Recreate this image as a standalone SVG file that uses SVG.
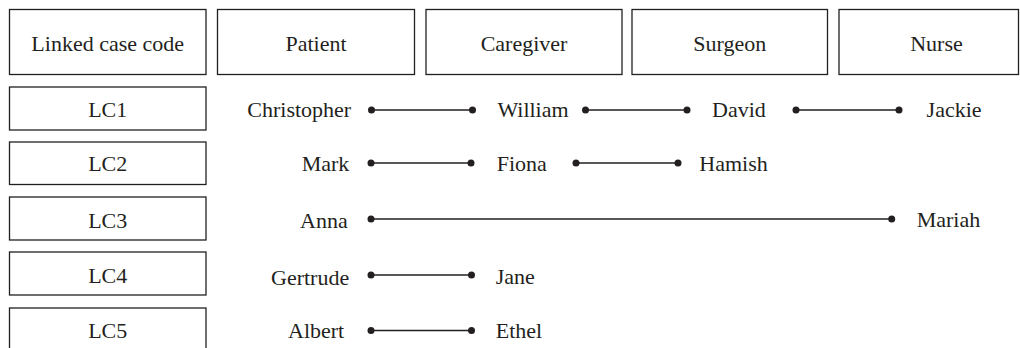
<svg xmlns="http://www.w3.org/2000/svg" width="1020" height="348" viewBox="0 0 1020 348">
<rect width="1020" height="348" fill="#fff"/>
<g id="nodes" font-family="Liberation Serif, serif" font-size="22" fill="#231f20">
<g id="boxes" fill="#fff" stroke="#231f20" stroke-width="1.3">
<rect id="box-linked" x="9.5" y="9.5" width="196.5" height="65"/>
<rect id="box-patient" x="217.5" y="9.5" width="197" height="65"/>
<rect id="box-caregiver" x="426" y="9.5" width="196" height="65"/>
<rect id="box-surgeon" x="632" y="9.5" width="195.5" height="65"/>
<rect id="box-nurse" x="839" y="9.5" width="179.5" height="65"/>
<rect id="box-lc1" x="9.5" y="87" width="196.5" height="43"/>
<rect id="box-lc2" x="9.5" y="142" width="196.5" height="42.5"/>
<rect id="box-lc3" x="9.5" y="197" width="196.5" height="43"/>
<rect id="box-lc4" x="9.5" y="252" width="196.5" height="43"/>
<rect id="box-lc5" x="9.5" y="308" width="196.5" height="45"/>
</g>
<g id="box-labels" text-anchor="middle">
<text id="header-linked" x="107.7" y="50.5">Linked case code</text>
<text id="header-patient" x="316" y="50.5">Patient</text>
<text id="header-caregiver" x="524" y="50.5">Caregiver</text>
<text id="header-surgeon" x="729.7" y="50.5">Surgeon</text>
<text id="header-nurse" x="936.5" y="50.5">Nurse</text>
<text id="lc1" x="107.7" y="117">LC1</text>
<text id="lc2" x="107.7" y="171">LC2</text>
<text id="lc3" x="107.7" y="227.5">LC3</text>
<text id="lc4" x="107.7" y="283">LC4</text>
<text id="lc5" x="107.7" y="338">LC5</text>
</g>
<g id="names">
<text id="christopher" x="247.3" y="117.3">Christopher</text>
<text id="william" x="497.4" y="117.3">William</text>
<text id="david" x="712" y="117.3">David</text>
<text id="jackie" x="926.6" y="117.3">Jackie</text>
<text id="mark" x="301.7" y="170.7">Mark</text>
<text id="fiona" x="496.7" y="170.7">Fiona</text>
<text id="hamish" x="699.3" y="170.7">Hamish</text>
<text id="anna" x="300" y="228">Anna</text>
<text id="mariah" x="916.7" y="227">Mariah</text>
<text id="gertrude" x="271" y="285">Gertrude</text>
<text id="jane" x="495.7" y="283.5">Jane</text>
<text id="albert" x="288" y="338.3">Albert</text>
<text id="ethel" x="495.7" y="338.3">Ethel</text>
</g>
</g>
<g id="connectors" stroke="#231f20" stroke-width="1.4">
<g fill="none">
<line x1="371.5" y1="110" x2="472.5" y2="110"/>
<line x1="585.5" y1="110" x2="687" y2="110"/>
<line x1="796" y1="110" x2="899" y2="110"/>
<line x1="371" y1="163" x2="471" y2="163"/>
<line x1="576" y1="163" x2="678" y2="163"/>
<line x1="371" y1="219" x2="891.7" y2="219"/>
<line x1="371" y1="275" x2="471.5" y2="275"/>
<line x1="371" y1="330.5" x2="471.5" y2="330.5"/>
</g>
<g fill="#231f20" stroke="none">
<circle cx="371.5" cy="110" r="3.5"/><circle cx="472.5" cy="110" r="3.5"/>
<circle cx="585.5" cy="110" r="3.5"/><circle cx="687" cy="110" r="3.5"/>
<circle cx="796" cy="110" r="3.5"/><circle cx="899" cy="110" r="3.5"/>
<circle cx="371" cy="163" r="3.5"/><circle cx="471" cy="163" r="3.5"/>
<circle cx="576" cy="163" r="3.5"/><circle cx="678" cy="163" r="3.5"/>
<circle cx="371" cy="219" r="3.5"/><circle cx="891.7" cy="219" r="3.5"/>
<circle cx="371" cy="275" r="3.5"/><circle cx="471.5" cy="275" r="3.5"/>
<circle cx="371" cy="330.5" r="3.5"/><circle cx="471.5" cy="330.5" r="3.5"/>
</g>
</g>
</svg>
